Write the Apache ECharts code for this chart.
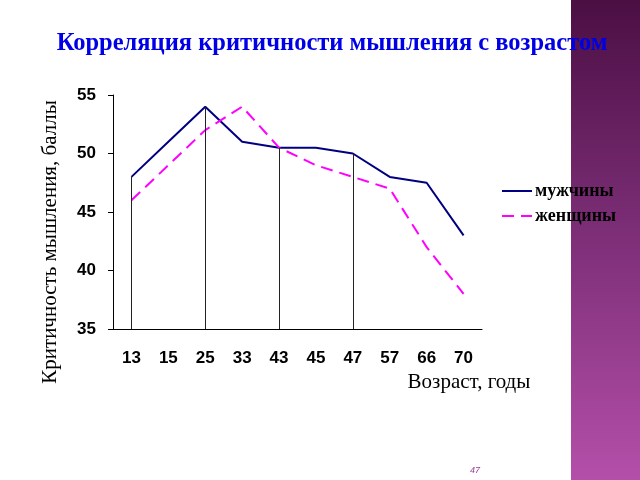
<!DOCTYPE html>
<html>
<head>
<meta charset="utf-8">
<script src="https://cdn.jsdelivr.net/npm/echarts@6/dist/echarts.min.js"></script>
<style>
  html, body { margin: 0; padding: 0; background: #fff; }
  #chart { width: 640px; height: 480px; }
</style>
</head>
<body>
<div id="chart"></div>
<script>
// данные
var ages = ['13', '15', '25', '33', '43', '45', '47', '57', '66', '70'];
var men = [48, 51, 54, 51, 50.5, 50.5, 50, 48, 47.5, 43];
var women = [46, 49, 52, 54, 50.5, 49, 48, 47, 42, 38];
var yTicks = [35, 40, 45, 50, 55];
var dropAges = ['13', '25', '43', '47'];

var chart = echarts.init(document.getElementById('chart'));

// вертикальные линии от оси до кривой мужчин
var drops = dropAges.map(function(a) {
  var v = men[ages.indexOf(a)];
  return [{ coord: [a, yTicks[0]] }, { coord: [a, v] }];
});

var option = {
  animation: false,
  backgroundColor: '#ffffff',
  title: {
    text: 'Корреляция критичности мышления с возрастом',
    left: 327,
    top: 26,
    textAlign: 'center',
    textStyle: {
      fontFamily: 'Liberation Serif',
      fontWeight: 'bold',
      fontSize: 24.5,
      color: '#0000e6'
    }
  },
  legend: {
    orient: 'vertical',
    left: 496,
    top: 177,
    itemGap: 7,
    itemWidth: 30,
    itemHeight: 18,
    itemStyle: { color: 'transparent', borderColor: 'transparent', borderWidth: 0 },
    textStyle: {
      fontFamily: 'Liberation Serif',
      fontWeight: 'bold',
      fontSize: 18,
      color: '#000',
      padding: [0, 0, 0, -2]
    },
    data: ['мужчины', 'женщины']
  },
  grid: { left: 113, right: 158, top: 95, bottom: 151 },
  xAxis: {
    type: 'category',
    data: ages,
    boundaryGap: true,
    axisLine: { lineStyle: { color: '#000', width: 1 } },
    axisTick: { show: false },
    axisLabel: {
      margin: 21,
      fontFamily: 'Liberation Sans',
      fontWeight: 'bold',
      fontSize: 17,
      color: '#000'
    }
  },
  yAxis: {
    type: 'value',
    min: yTicks[0],
    max: yTicks[yTicks.length - 1],
    interval: 5,
    axisLine: { show: true, lineStyle: { color: '#000', width: 1 } },
    axisTick: { show: true, inside: false, length: 5, lineStyle: { color: '#000' } },
    splitLine: { show: false },
    axisLabel: {
      margin: 17,
      fontFamily: 'Liberation Sans',
      fontWeight: 'bold',
      fontSize: 17,
      color: '#000'
    }
  },
  graphic: [
    {
      type: 'rect',
      z: -10,
      shape: { x: 571, y: 0, width: 69, height: 480 },
      style: {
        fill: new echarts.graphic.LinearGradient(0, 0, 0, 1, [
          { offset: 0, color: '#4b0f44' },
          { offset: 0.5, color: '#7e2f78' },
          { offset: 1, color: '#b44fa9' }
        ])
      }
    },
    {
      type: 'text',
      x: 50,
      y: 242,
      rotation: Math.PI / 2,
      style: {
        text: 'Критичность мышления, баллы',
        font: '21px "Liberation Serif"',
        fill: '#000',
        align: 'center',
        verticalAlign: 'middle'
      }
    },
    {
      type: 'text',
      x: 469,
      y: 382,
      style: {
        text: 'Возраст, годы',
        font: '21px "Liberation Serif"',
        fill: '#000',
        align: 'center',
        verticalAlign: 'middle'
      }
    },
    {
      type: 'text',
      x: 475,
      y: 470,
      style: {
        text: '47',
        font: 'italic 9px "Liberation Sans"',
        fill: '#9b3c93',
        align: 'center',
        verticalAlign: 'middle'
      }
    }
  ],
  series: [
    {
      name: 'мужчины',
      type: 'line',
      data: men,
      symbol: 'none',
      lineStyle: { color: '#000080', width: 2 },
      itemStyle: { color: '#000080' },
      markLine: {
        silent: true,
        symbol: ['none', 'none'],
        label: { show: false },
        lineStyle: { color: '#222', width: 1, type: 'solid' },
        data: drops
      }
    },
    {
      name: 'женщины',
      type: 'line',
      data: women,
      symbol: 'none',
      lineStyle: { color: '#ff00ff', width: 2, type: [12, 7] },
      itemStyle: { color: '#ff00ff' }
    }
  ]
};

chart.setOption(option);
</script>
</body>
</html>
